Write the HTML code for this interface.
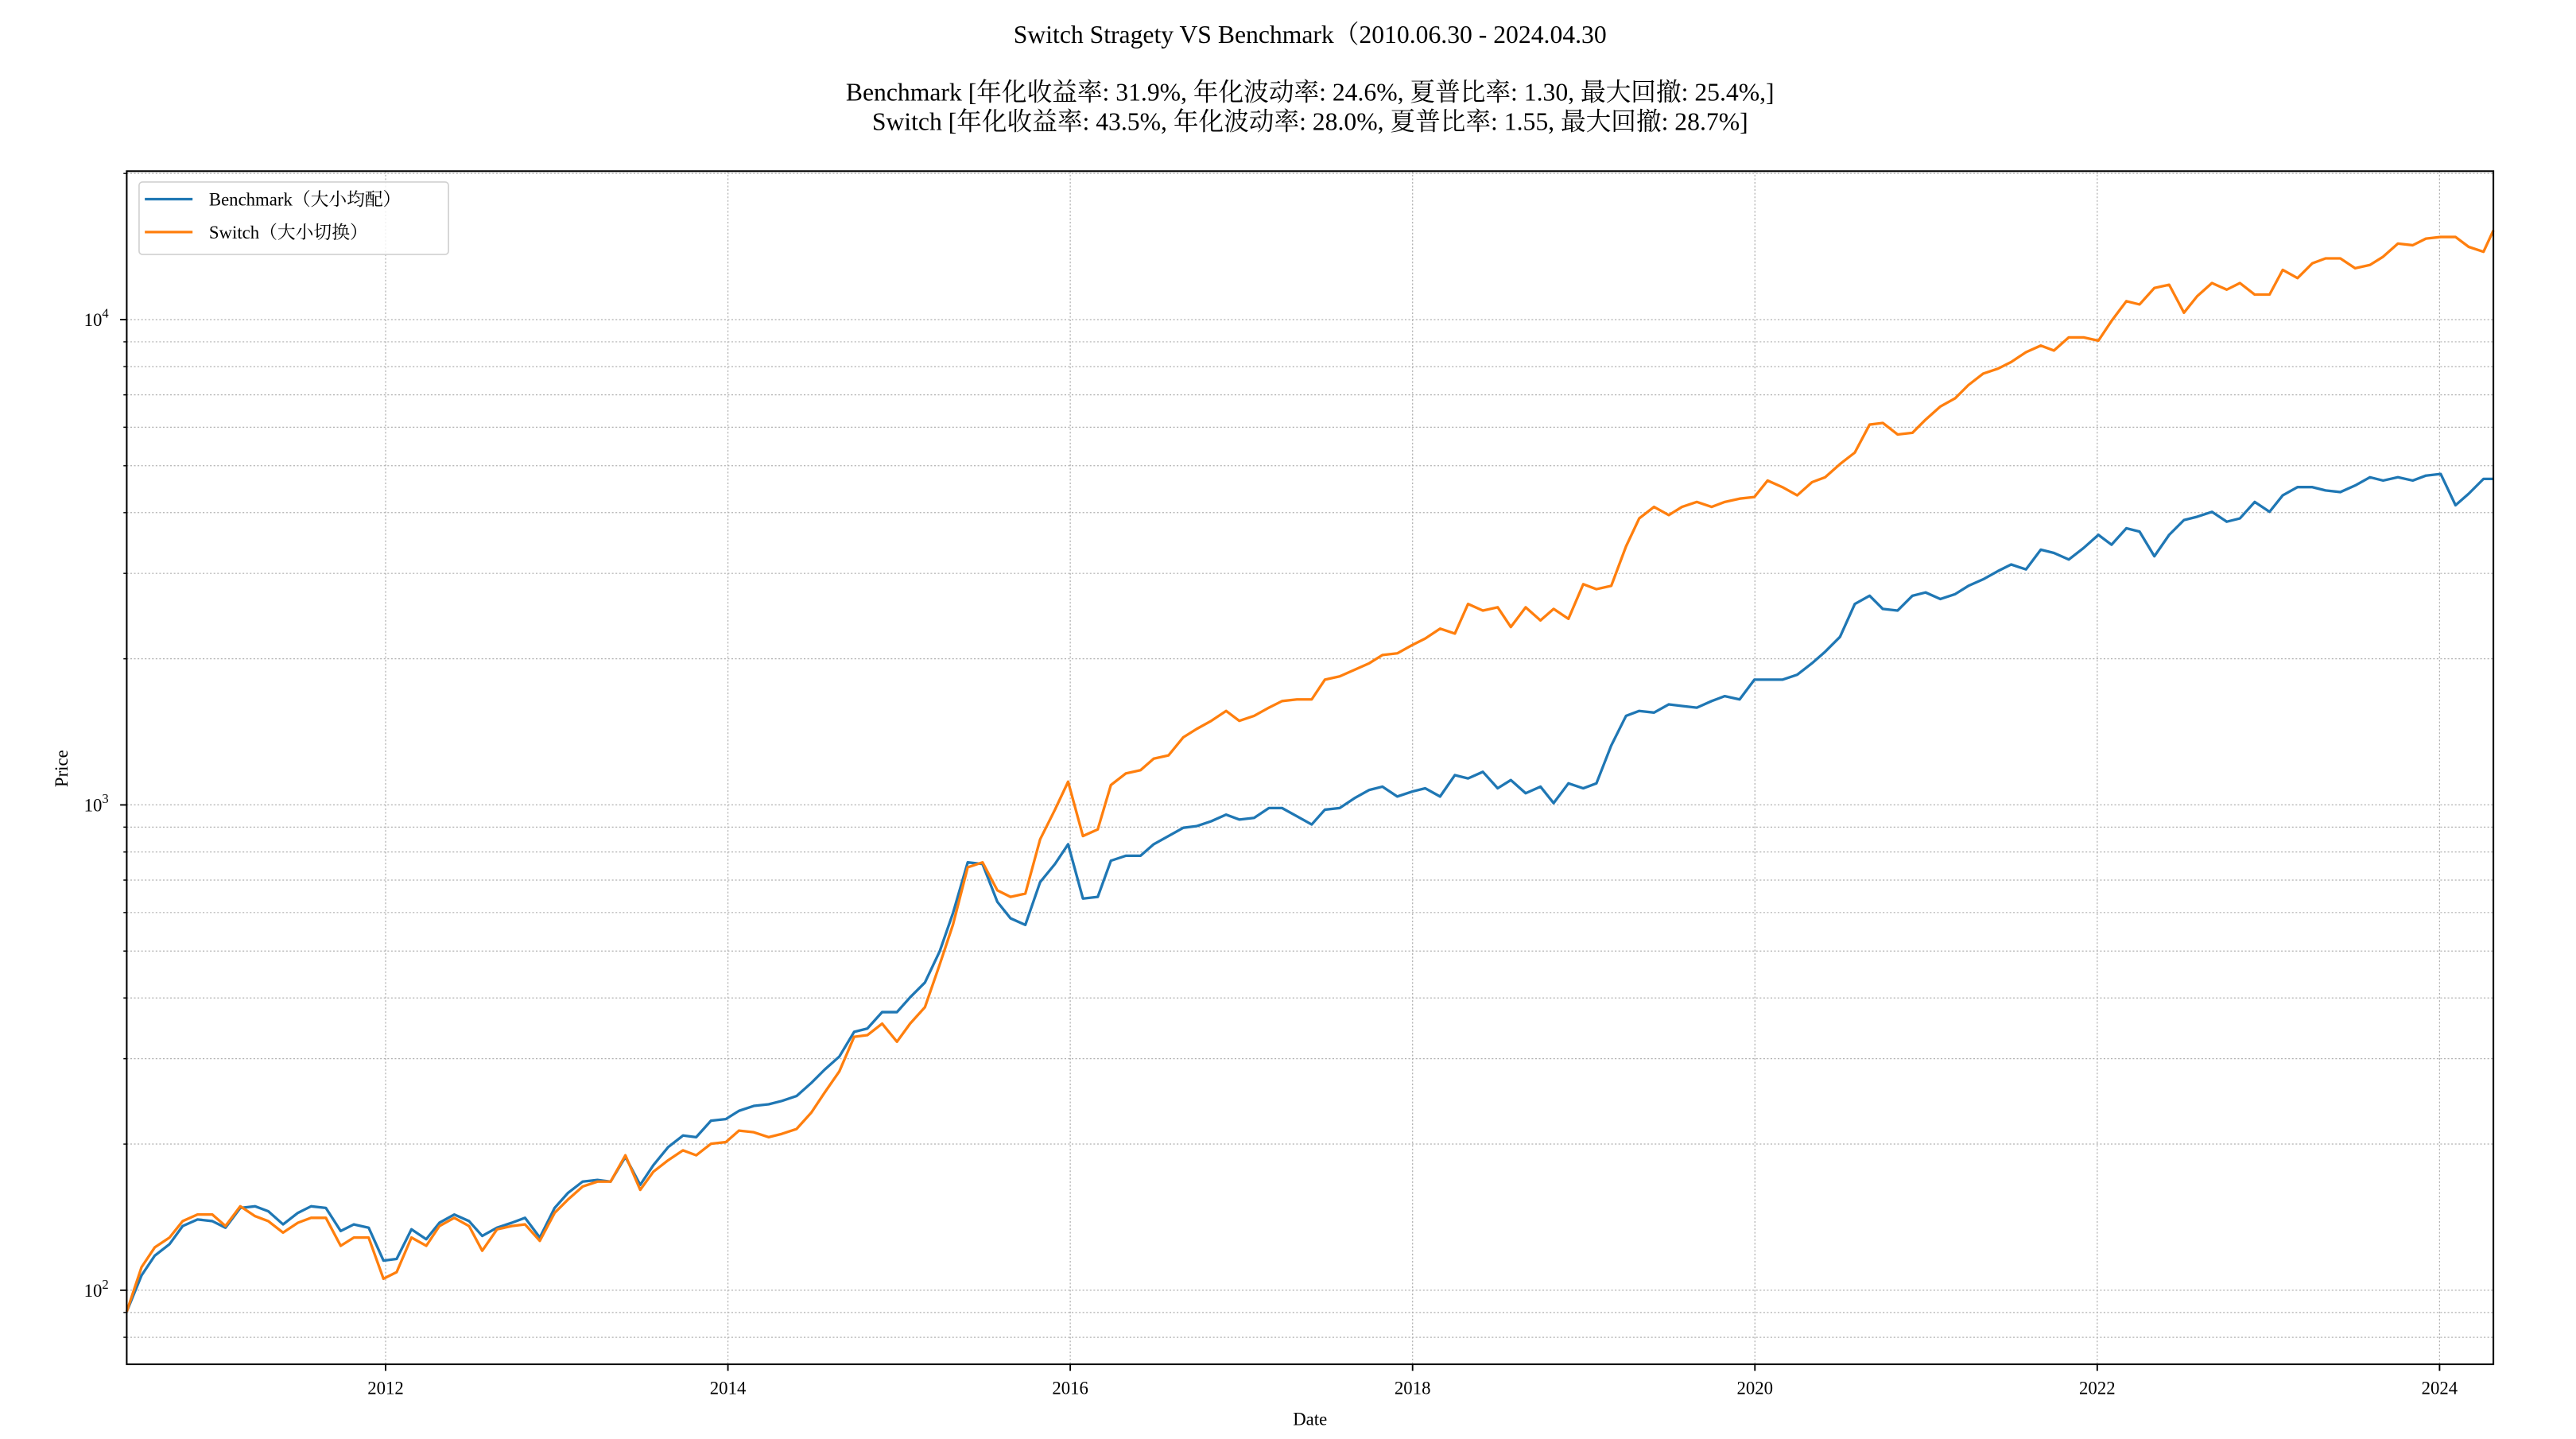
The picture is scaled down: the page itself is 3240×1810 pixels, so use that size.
<!DOCTYPE html>
<html><head><meta charset="utf-8"><style>html,body{margin:0;padding:0;background:#fff}svg{display:block}</style></head><body>
<svg width="3240" height="1810" viewBox="0 0 1565.2 874.4" preserveAspectRatio="none" xmlns="http://www.w3.org/2000/svg" font-family="'Liberation Serif','Noto Serif CJK SC',serif">
<g font-size="15.3" text-anchor="middle" fill="#000">
<text x="796" y="26">Switch Stragety VS Benchmark（2010.06.30 - 2024.04.30</text>
<text x="796" y="61">Benchmark [年化收益率: 31.9%, 年化波动率: 24.6%, 夏普比率: 1.30, 最大回撤: 25.4%,]</text>
<text x="796" y="79">Switch [年化收益率: 43.5%, 年化波动率: 28.0%, 夏普比率: 1.55, 最大回撤: 28.7%]</text>
</g>
<g stroke="#b0b0b0" stroke-width="0.6" stroke-dasharray="1,1.2" fill="none">
<path d="M77 812.6H1515M77 797.5H1515M77 784H1515M77 695.2H1515M77 643.3H1515M77 606.4H1515M77 577.9H1515M77 554.5H1515M77 534.8H1515M77 517.7H1515M77 502.6H1515M77 489.1H1515M77 400.3H1515M77 348.4H1515M77 311.5H1515M77 283H1515M77 259.6H1515M77 239.9H1515M77 222.8H1515M77 207.7H1515M77 194.2H1515M77 105.4H1515"/>
<path d="M234.3 104V829M442.3 104V829M650.3 104V829M858.3 104V829M1066.3 104V829M1274.3 104V829M1482.3 104V829"/>
</g>
<g fill="none" stroke-width="1.6" stroke-linejoin="round">
<polyline stroke="#1f77b4" points="77,797 86,775 94,763 103,756 111,745 120,741 129,742 137,746 146,734 155,733 163,736 172,744 181,737 189,733 198,734 207,748 215,744 224,746 233,766 241,765 250,747 259,753 267,743 276,738 285,742 293,751 302,746 311,743 319,740 328,752 337,734 345,725 354,718 363,717 371,718 380,703 389,720 397,708 406,697 415,690 423,691 432,681 441,680 449,675 458,672 467,671 475,669 484,666 493,658 501,650 510,642 519,627 527,625 536,615 545,615 553,606 562,597 571,578 579,555 588,524 597,525 606,548 614,558 623,562 632,536 641,525 649,513 658,546 667,545 675,523 684,520 693,520 701,513 710,508 719,503 727,502 736,499 745,495 753,498 762,497 771,491 779,491 788,496 797,501 805,492 814,491 823,485 832,480 840,478 849,484 858,481 866,479 875,484 884,471 892,473 901,469 910,479 918,474 927,482 936,478 944,488 953,476 962,479 970,476 979,453 988,435 996,432 1005,433 1014,428 1022,429 1031,430 1040,426 1048,423 1057,425 1066,413 1074,413 1083,413 1092,410 1101,403 1109,396 1118,387 1127,367 1136,362 1144,370 1153,371 1162,362 1170,360 1179,364 1188,361 1196,356 1205,352 1214,347 1222,343 1231,346 1240,334 1248,336 1257,340 1266,333 1275,325 1283,331 1292,321 1300,323 1309,338 1318,325 1327,316 1335,314 1344,311 1353,317 1361,315 1370,305 1379,311 1387,301 1396,296 1405,296 1413,298 1422,299 1431,295 1440,290 1448,292 1457,290 1466,292 1474,289 1483,288 1492,307 1500,300 1509,291 1515,291"/>
<polyline stroke="#ff7f0e" points="77,797 86,770 94,758 103,752 111,742 120,738 129,738 137,745 146,733 155,739 163,742 172,749 181,743 189,740 198,740 207,757 215,752 224,752 233,777 241,773 250,752 259,757 267,745 276,740 285,745 293,760 302,747 311,745 319,744 328,754 337,737 345,729 354,721 363,718 371,718 380,702 389,723 397,712 406,705 415,699 423,702 432,695 441,694 449,687 458,688 467,691 475,689 484,686 493,676 501,664 510,651 519,630 527,629 536,622 545,633 553,622 562,612 571,586 579,562 588,527 597,524 606,541 614,545 623,543 632,510 641,492 649,475 658,508 667,504 675,477 684,470 693,468 701,461 710,459 719,448 727,443 736,438 745,432 753,438 762,435 771,430 779,426 788,425 797,425 805,413 814,411 823,407 832,403 840,398 849,397 858,392 866,388 875,382 884,385 892,367 901,371 910,369 918,381 927,369 936,377 944,370 953,376 962,355 970,358 979,356 988,332 996,315 1005,308 1014,313 1022,308 1031,305 1040,308 1048,305 1057,303 1066,302 1074,292 1083,296 1092,301 1101,293 1109,290 1118,282 1127,275 1136,258 1144,257 1153,264 1162,263 1170,255 1179,247 1188,242 1196,234 1205,227 1214,224 1222,220 1231,214 1240,210 1248,213 1257,205 1266,205 1275,207 1283,195 1292,183 1300,185 1309,175 1318,173 1327,190 1335,180 1344,172 1353,176 1361,172 1370,179 1379,179 1387,164 1396,169 1405,160 1413,157 1422,157 1431,163 1440,161 1448,156 1457,148 1466,149 1474,145 1483,144 1492,144 1500,150 1509,153 1515,140"/>
</g>
<rect x="77" y="104" width="1438" height="725" fill="none" stroke="#000" stroke-width="1"/>
<g stroke="#000" stroke-width="0.9">
<path d="M77 784h-4M77 489.1h-4M77 194.2h-4"/>
<path d="M77 812.6h-2M77 797.5h-2M77 695.2h-2M77 643.3h-2M77 606.4h-2M77 577.9h-2M77 554.5h-2M77 534.8h-2M77 517.7h-2M77 502.6h-2M77 400.3h-2M77 348.4h-2M77 311.5h-2M77 283h-2M77 259.6h-2M77 239.9h-2M77 222.8h-2M77 207.7h-2M77 105.4h-2" stroke-width="0.7"/>
<path d="M234.3 829v4M442.3 829v4M650.3 829v4M858.3 829v4M1066.3 829v4M1274.3 829v4M1482.3 829v4"/>
</g>
<g font-size="11" fill="#000">
<g text-anchor="end">
<text x="66" y="788">10<tspan font-size="8" dy="-5">2</tspan></text>
<text x="66" y="493">10<tspan font-size="8" dy="-5">3</tspan></text>
<text x="66" y="198">10<tspan font-size="8" dy="-5">4</tspan></text>
</g>
<g text-anchor="middle">
<text x="234.3" y="847">2012</text><text x="442.3" y="847">2014</text><text x="650.3" y="847">2016</text><text x="858.3" y="847">2018</text><text x="1066.3" y="847">2020</text><text x="1274.3" y="847">2022</text><text x="1482.3" y="847">2024</text>
<text x="796" y="866">Date</text>
<text transform="translate(41,467) rotate(-90)">Price</text>
</g>
</g>
<rect x="84.5" y="110.6" width="188" height="44" rx="2" fill="#fff" fill-opacity="0.8" stroke="#d0d0d0" stroke-width="0.8"/>
<path d="M88 121H117" stroke="#1f77b4" stroke-width="1.6"/>
<path d="M88 141H117" stroke="#ff7f0e" stroke-width="1.6"/>
<g font-size="11" fill="#000">
<text x="127" y="125">Benchmark（大小均配）</text>
<text x="127" y="145">Switch（大小切换）</text>
</g>
</svg>
</body></html>
